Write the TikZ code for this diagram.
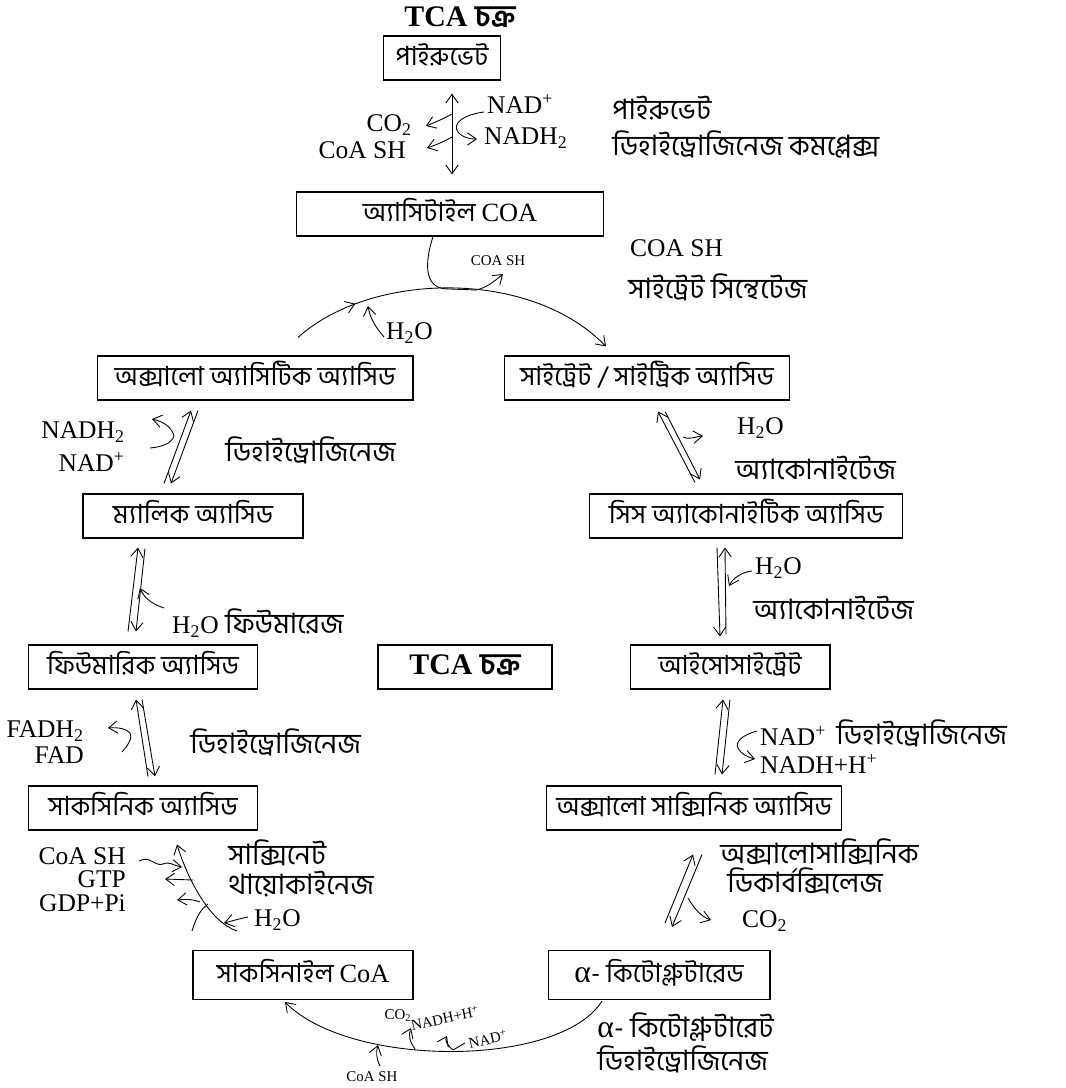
\documentclass[tikz,border=0pt]{standalone}
\usepackage{fontspec}
\setmainfont{Liberation Serif}
\newfontfamily\bn[Script=Bengali]{Hind Siliguri}
\usetikzlibrary{arrows.meta,decorations.markings}
\begin{document}
\begin{tikzpicture}[x=0.02cm,y=-0.02cm,line width=0.5pt,
    >={Straight Barb[length=5pt,width=7pt]},
    box/.style={draw,line width=0.6pt,minimum height=0.88cm,text height=11pt,text depth=3pt,inner sep=0pt,font=\bn\fontsize{15}{18}\selectfont},
    lab/.style={font=\fontsize{14.5}{17}\selectfont,inner sep=1pt},
    bnlab/.style={font=\bn\fontsize{16}{19}\selectfont,inner sep=0pt},
    smalllab/.style={font=\fontsize{8.5}{10}\selectfont,inner sep=0.5pt},
    midarrow/.style={postaction={decorate,decoration={markings,mark=at position #1 with {\arrow{>}}}}}]
  \useasboundingbox (0,0) rectangle (1065,1088);
  % boxes
  \node[font=\bfseries\fontsize{17}{20}\selectfont] (title) at (460,17) {TCA {\bn চক্র}};
  \node[box,minimum width=2.34cm] (pyr) at (442,58) {পাইরুভেট};
  \node[box,minimum width=6.14cm] (acetyl) at (450,214) {অ্যাসিটাইল {\rmfamily COA}};
  \node[box,minimum width=6.32cm] (oxalo) at (255,378) {অক্সালো অ্যাসিটিক অ্যাসিড};
  \node[box,minimum width=5.7cm] (citrate) at (647,378) {সাইট্রেট / সাইট্রিক অ্যাসিড};
  \node[box,minimum width=4.4cm] (malic) at (193,516) {ম্যালিক অ্যাসিড};
  \node[box,minimum width=6.26cm] (cis) at (746,516) {সিস অ্যাকোনাইটিক অ্যাসিড};
  \node[box,minimum width=4.58cm] (fumaric) at (143,667) {ফিউমারিক অ্যাসিড};
  \node[box,minimum width=3.48cm,font=\bfseries\fontsize{17}{20}\selectfont] (tca) at (465,667) {TCA {\bn চক্র}};
  \node[box,minimum width=4.0cm] (iso) at (730,667) {আইসোসাইট্রেট};
  \node[box,minimum width=4.58cm] (succinic) at (143,808) {সাকসিনিক অ্যাসিড};
  \node[box,minimum width=5.9cm] (oxsucc) at (694,808) {অক্সালো সাক্সিনিক অ্যাসিড};
  \node[box,minimum width=4.4cm,minimum height=0.98cm] (succoa) at (303,975) {সাকসিনাইল {\rmfamily CoA}};
  \node[box,minimum width=4.44cm,minimum height=0.98cm] (akg) at (659,975) {{\rmfamily\fontsize{18}{20}\selectfont α}- কিটোগ্লুটারেড};

  % pyruvate -> acetyl CoA
  \draw[<->] ([shift={(10,13)}]pyr.south) -- ([shift={(2,-17)}]acetyl.north);
  \draw[->] (452,114) .. controls (445,118) and (436,122) .. (426,126);
  \draw[->] (452,137) .. controls (445,141) and (436,145) .. (427,148);
  \draw[->] (484,112) .. controls (462,115) and (452,124) .. (458,132) .. controls (462,137) and (468,139) .. (477,139);
  \node[lab,anchor=east] (co2a) at (414,125) {CO\textsubscript{2}};
  \node[lab,anchor=east] (coasha) at (408,150) {CoA SH};
  \node[lab,anchor=west] (nada) at (485,104) {NAD\textsuperscript{+}};
  \node[lab,anchor=west] (nadha) at (482,138) {NADH\textsubscript{2}};
  \node[bnlab,anchor=west] (pdh1) at (612,108) {পাইরুভেট};
  \node[bnlab,anchor=west] (pdh2) at (612,144) {ডিহাইড্রোজিনেজ কমপ্লেক্স};

  % acetyl CoA + oxaloacetate -> citrate
  \draw[->,midarrow=0.2] ([shift={(43,-18)}]oxalo.north) .. controls (370,272) and (530,268) .. ([shift={(-41,-9)}]citrate.north);
  \draw[->] ([shift={(-17,0)}]acetyl.south) .. controls (424,265) and (424,290) .. (450,289) -- (476,290) .. controls (486,288) and (495,281) .. (503,274);
  \draw[->] (384,337) .. controls (376,328) and (370,318) .. (368,306);
  \node[smalllab] (coashb) at (498,261) {COA SH};
  \node[lab,anchor=west] (h2oa) at (384,333) {H\textsubscript{2}O};
  \node[lab,anchor=west] (coashc) at (628,248) {COA SH};
  \node[bnlab,anchor=west] (cs) at (628,287) {সাইট্রেট সিন্থেটেজ};

  % oxaloacetate <-> malate
  \draw[->] ([shift={(-29,-10)}]malic.north) -- ([shift={(-64,10)}]oxalo.south);
  \draw[->] ([shift={(-57,10)}]oxalo.south) -- ([shift={(-22,-10)}]malic.north);
  \draw[->] (150,448) .. controls (162,447) and (172,443) .. (174,436) .. controls (172,428) and (165,422) .. (152,419);
  \node[lab,anchor=east] (nadhb) at (127,432) {NADH\textsubscript{2}};
  \node[lab,anchor=east] (nadb) at (127,462) {NAD\textsuperscript{+}};
  \node[bnlab,anchor=west] (mdh) at (225,450) {ডিহাইড্রোজিনেজ};

  % malate <-> fumarate
  \draw[->] ([shift={(-15,-13)}]fumaric.north) -- ([shift={(-55,9)}]malic.south);
  \draw[->] ([shift={(-48,10)}]malic.south) -- ([shift={(-7,-13)}]fumaric.north);
  \draw[->] (164,608) .. controls (152,604) and (144,598) .. (140,588);
  \node[lab,anchor=west] (fum) at (170,623) {H\textsubscript{2}O {\bn\fontsize{16}{19}\selectfont ফিউমারেজ}};

  % fumarate <-> succinate
  \draw[->] ([shift={(5,-9)}]succinic.north) -- ([shift={(-7,10)}]fumaric.south);
  \draw[->] ([shift={(-1,10)}]fumaric.south) -- ([shift={(12,-9)}]succinic.north);
  \draw[->] (122,752) .. controls (128,745) and (133,738) .. (130,733) .. controls (127,729) and (118,727) .. (108,728);
  \node[lab,anchor=east] (fadh) at (86,731) {FADH\textsubscript{2}};
  \node[lab,anchor=east] (fad) at (86,755) {FAD};
  \node[bnlab,anchor=west] (sdh) at (190,742) {ডিহাইড্রোজিনেজ};

  % succinyl CoA -> succinate
  \draw[->] ([shift={(-66,-19)}]succoa.north) .. controls (210,922) and (188,880) .. ([shift={(34,14)}]succinic.south);
  \draw[->] (139,861) .. controls (150,855) and (155,867) .. (163,864) .. controls (170,861) and (174,866) .. (182,867);
  \draw[->] (193,880) -- (165,879);
  \draw[->] (200,902) .. controls (192,899) and (186,899) .. (177,900);
  \draw (192,931) .. controls (196,918) and (200,910) .. (208,904);
  \draw[->] (248,917) .. controls (238,919) and (232,921) .. (224,923);
  \node[lab,anchor=east] (coashd) at (128,856) {CoA SH};
  \node[lab,anchor=east] (gtp) at (128,879) {GTP};
  \node[lab,anchor=east] (gdp) at (128,903) {GDP+Pi};
  \node[lab,anchor=west] (h2ob) at (252,920) {H\textsubscript{2}O};
  \node[bnlab,anchor=west] (stk1) at (228,853) {সাক্সিনেট};
  \node[bnlab,anchor=west] (stk2) at (228,884) {থায়োকাইনেজ};

  % alpha-ketoglutarate -> succinyl CoA
  \draw[->] ([shift={(-57,1)}]akg.south) .. controls (560,1068) and (350,1068) .. ([shift={(-18,2)}]succoa.south);
  \draw[->] (380,1066) .. controls (376,1058) and (376,1052) .. (378,1045);
  \draw[->] (415,1049) .. controls (410,1042) and (408,1035) .. (411,1028);
  \draw[->] (453,1050) .. controls (446,1044) and (445,1040) .. (447,1036);
  \draw (465,1043) -- (453,1050);
  \node[smalllab] (coashe) at (372,1077) {CoA SH};
  \node[smalllab] (co2b) at (398,1016) {CO\textsubscript{2}};
  \node[smalllab,rotate=12] (nadhc) at (445,1018) {NADH+H\textsuperscript{+}};
  \node[smalllab,rotate=12] (nadc) at (488,1039) {NAD\textsuperscript{+}};
  \node[bnlab,anchor=west] (kgdh1) at (597,1027) {{\rmfamily\fontsize{18}{20}\selectfont α}- কিটোগ্লুটারেট};
  \node[bnlab,anchor=west] (kgdh2) at (597,1059) {ডিহাইড্রোজিনেজ};

  % citrate <-> cis-aconitate
  \draw[->] ([shift={(-51,-11)}]cis.north) -- ([shift={(11,11)}]citrate.south);
  \draw[->] ([shift={(18,11)}]citrate.south) -- ([shift={(-46,-14)}]cis.north);
  \draw[->] (683,437) .. controls (688,440) and (694,437) .. (703,436);
  \node[lab,anchor=west] (h2oc) at (735,428) {H\textsubscript{2}O};
  \node[bnlab,anchor=west] (acn1) at (735,468) {অ্যাকোনাইটেজ};

  % cis-aconitate <-> isocitrate
  \draw[->] ([shift={(-29,9)}]cis.south) -- ([shift={(-10,-8)}]iso.north);
  \draw[->] ([shift={(-4,-10)}]iso.north) -- ([shift={(-21,9)}]cis.south);
  \draw[->] (752,571) .. controls (742,572) and (733,578) .. (729,586);
  \node[lab,anchor=west] (h2od) at (753,568) {H\textsubscript{2}O};
  \node[bnlab,anchor=west] (acn2) at (753,608) {অ্যাকোনাইটেজ};

  % isocitrate <-> oxalosuccinate
  \draw[->] ([shift={(21,-11)}]oxsucc.north) -- ([shift={(-7,10)}]iso.south);
  \draw[->] ([shift={(0,10)}]iso.south) -- ([shift={(28,-11)}]oxsucc.north);
  \draw[->] (757,731) .. controls (742,735) and (735,742) .. (738,748) .. controls (741,754) and (747,757) .. (755,759);
  \node[lab,anchor=west] (nadd) at (758,736) {NAD\textsuperscript{+}};
  \node[bnlab,anchor=west] (idh) at (836,733) {ডিহাইড্রোজিনেজ};
  \node[lab,anchor=west] (nadhd) at (758,764) {NADH+H\textsuperscript{+}};

  % oxalosuccinate <-> alpha-ketoglutarate
  \draw[->] ([shift={(6,-27)}]akg.north) -- ([shift={(-1,24)}]oxsucc.south);
  \draw[->] ([shift={(8,24)}]oxsucc.south) -- ([shift={(13,-23)}]akg.north);
  \draw[->] (688,898) .. controls (695,910) and (702,917) .. (711,920);
  \node[lab,anchor=west] (co2c) at (740,921) {CO\textsubscript{2}};
  \node[bnlab,anchor=west] (odc1) at (720,852) {অক্সালোসাক্সিনিক};
  \node[bnlab,anchor=west] (odc2) at (727,881) {ডিকার্বক্সিলেজ};
\end{tikzpicture}
\end{document}
